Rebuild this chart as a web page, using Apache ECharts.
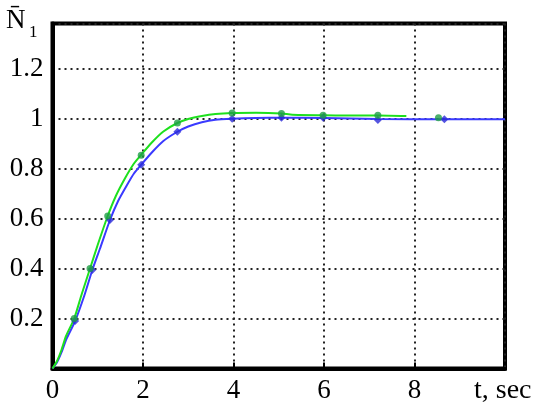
<!DOCTYPE html>
<html>
<head>
<meta charset="utf-8">
<script src="https://cdn.jsdelivr.net/npm/echarts@6/dist/echarts.min.js"></script>
<style>
  html, body { margin: 0; padding: 0; background: #fff; }
  #chart { width: 550px; height: 409px; }
</style>
</head>
<body>
<div id="chart"></div>
<script>
// green curve (line)
const greenT = [0, 0.1, 0.2, 0.3, 0.48, 0.65, 0.83, 1.0, 1.22, 1.4, 1.6, 1.8, 1.96, 2.2, 2.45, 2.76, 3.0, 3.3, 3.6, 3.97, 4.5, 5.06, 5.3, 6.0, 6.5, 7.2, 7.82];
const greenY = [0, 0.03, 0.075, 0.13, 0.2, 0.3, 0.4, 0.495, 0.61, 0.69, 0.76, 0.82, 0.855, 0.905, 0.948, 0.982, 0.998, 1.01, 1.018, 1.022, 1.023, 1.02, 1.015, 1.013, 1.012, 1.012, 1.01];
// blue curve (line)
const blueT = [0, 0.1, 0.2, 0.3, 0.5, 0.7, 0.88, 1.05, 1.27, 1.45, 1.65, 1.8, 1.96, 2.2, 2.45, 2.76, 3.0, 3.3, 3.6, 3.97, 4.5, 5.06, 6.0, 7.2, 8.66, 10];
const blueY = [0, 0.025, 0.065, 0.115, 0.19, 0.29, 0.394, 0.48, 0.594, 0.67, 0.735, 0.78, 0.815, 0.865, 0.91, 0.947, 0.968, 0.985, 0.995, 0.999, 1.002, 1.003, 1.002, 0.998, 0.997, 0.997];
// marker points
const greenMarkT = [0.48, 0.83, 1.22, 1.96, 2.76, 3.97, 5.06, 5.98, 7.19, 8.53];
const greenMarkY = [0.2, 0.40, 0.61, 0.853, 0.982, 1.022, 1.02, 1.013, 1.013, 1.003];
const blueMarkT = [0.5, 0.88, 1.27, 1.96, 2.76, 3.97, 5.06, 5.98, 7.19, 8.66];
const blueMarkY = [0.19, 0.394, 0.594, 0.815, 0.947, 0.999, 1.003, 1.003, 0.994, 0.997];

const zip = (xs, ys) => xs.map((x, i) => [x, ys[i]]);
const serif = '"Liberation Serif", "DejaVu Serif", serif';
const dotted = { color: '#222', width: 2, type: [2, 4] };

const chart = echarts.init(document.getElementById('chart'));
const option = {
    animation: false,
    grid: {
        left: 52.5,
        right: 45,
        top: 23.5,
        bottom: 40.5,
        show: true,
        borderColor: '#000',
        borderWidth: 4
    },
    xAxis: {
        type: 'value',
        min: 0,
        max: 10,
        interval: 2,
        axisLine: { show: true, lineStyle: { color: '#000', width: 4 } },
        axisTick: { show: true, inside: true, length: 6, lineStyle: { color: '#000', width: 2 } },
        axisLabel: {
            showMaxLabel: false,
            margin: 9,
            color: '#000',
            fontFamily: serif,
            fontSize: 27
        },
        splitLine: { show: true, lineStyle: dotted }
    },
    yAxis: {
        type: 'value',
        min: 0,
        max: 1.38,
        interval: 0.2,
        axisLine: { show: true, lineStyle: { color: '#000', width: 4 } },
        axisTick: { show: false },
        axisLabel: {
            showMinLabel: false,
            showMaxLabel: false,
            margin: 9,
            color: '#000',
            fontFamily: serif,
            fontSize: 27
        },
        splitLine: { show: true, lineStyle: dotted }
    },
    graphic: [
        {
            type: 'text', left: 6, top: 7,
            style: { text: 'N\u0304', fontFamily: serif, fontSize: 27, fill: '#000' }
        },
        {
            type: 'text', left: 29, top: 24,
            style: { text: '1', fontFamily: serif, fontSize: 17, fill: '#000' }
        },
        {
            type: 'text', left: 474, top: 377,
            style: { text: 't, sec', fontFamily: serif, fontSize: 28, fill: '#000' }
        }
    ],
    series: [
        {
            name: 'blue', type: 'line', data: zip(blueT, blueY),
            showSymbol: false, smooth: 0.2,
            lineStyle: { color: '#3a3aff', width: 2 }, z: 3
        },
        {
            name: 'green', type: 'line', data: zip(greenT, greenY),
            showSymbol: false, smooth: 0.2,
            lineStyle: { color: '#1ee01e', width: 2 }, z: 4
        },
        {
            name: 'blueMarks', type: 'scatter', data: zip(blueMarkT, blueMarkY),
            symbol: 'diamond', symbolSize: 8,
            itemStyle: { color: '#2a2ad8' }, z: 5
        },
        {
            name: 'greenMarks', type: 'scatter', data: zip(greenMarkT, greenMarkY),
            symbol: 'circle', symbolSize: 7,
            itemStyle: { color: '#1e9e46' }, z: 6
        }
    ]
};
chart.setOption(option);
</script>
</body>
</html>
